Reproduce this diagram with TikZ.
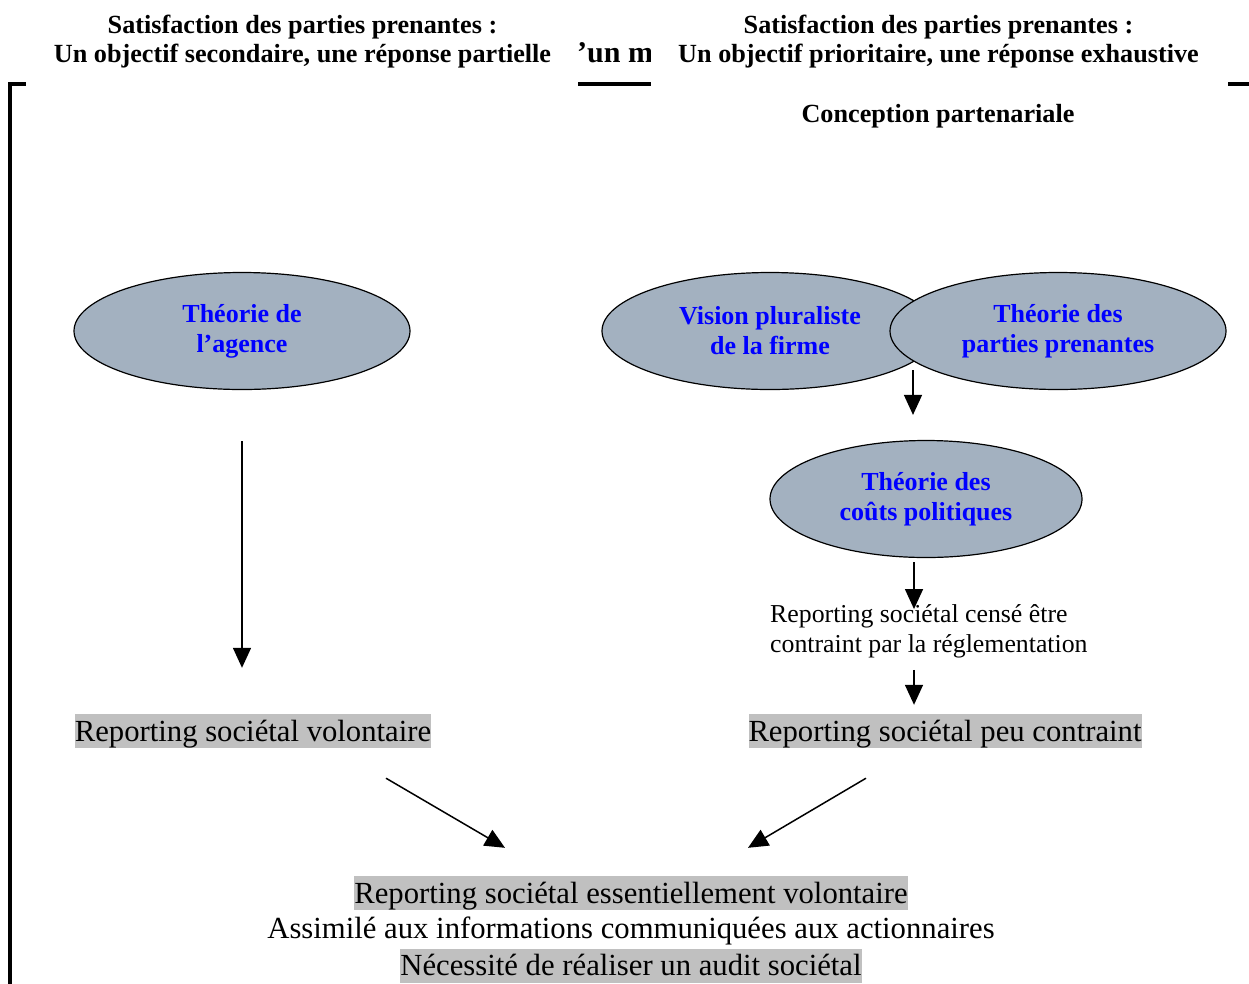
\documentclass[tikz,border=0pt]{standalone}
\usepackage{fontspec}
\setmainfont{Liberation Serif}
\usetikzlibrary{arrows.meta,shapes.geometric}
\definecolor{ellfill}{HTML}{A3B1C0}
\definecolor{hl}{HTML}{C0C0C0}
\definecolor{ttblue}{HTML}{0000FF}
\tikzset{
  theory/.style={ellipse, draw=black, line width=1.2pt, fill=ellfill,
    minimum width=336pt, minimum height=117pt, inner sep=0pt,
    font=\fontsize{26}{30}\selectfont\bfseries, text=ttblue, align=center},
  hlbox/.style={fill=hl, inner xsep=0pt, inner ysep=2.5pt,
    font=\fontsize{30.7}{36}\selectfont, text height=24.5pt, text depth=4.5pt},
  plaintext/.style={font=\fontsize{30.7}{36}\selectfont, inner sep=0pt},
  smalltext/.style={font=\fontsize{25.8}{30}\selectfont, inner sep=0pt, align=left},
  titletext/.style={font=\fontsize{26.2}{29}\selectfont\bfseries, align=center, inner sep=0pt},
  arr/.style={line width=1.5pt, -{Triangle[length=20pt,width=18pt]}},
  frameline/.style={line width=3.5pt}
}
\begin{document}
\begin{tikzpicture}[x=1pt,y=-1pt]
\useasboundingbox (0,0) rectangle (1249,983);
% frame
\coordinate (fTL) at (10,84);
\coordinate (fTR) at (1260,84);
\coordinate (fBL) at (10,995);
\draw[frameline] (fTR) -- (fTL) -- (fBL);
% clipped heading fragment
\node[font=\fontsize{30}{32}\selectfont\bfseries, anchor=base west, inner sep=0pt] (frag) at (577,62) {’un m};
% white masks
\fill[white] (26,0) rectangle (578,92);
\fill[white] (651,0) rectangle (1228,92);
% titles
\node[titletext] (tleft) at (302.5,41.5) {Satisfaction des parties prenantes :\\ Un objectif secondaire, une réponse partielle};
\node[titletext] (tright) at (938.5,41.5) {Satisfaction des parties prenantes :\\ Un objectif prioritaire, une réponse exhaustive};
\node[titletext] (concept) at (938,116) {Conception partenariale};
% ellipses
\node[theory] (agence) at (242,331) {Théorie de\\ l’agence};
\node[theory] (vision) at (770,331) {\vphantom{É}Vision pluraliste\\ de la firme\vphantom{p}};
\node[theory] (parties) at (1058,331) {Théorie des\\ parties prenantes};
\node[theory, minimum width=312pt] (couts) at (926,499) {Théorie des\\ coûts politiques};
% texts
\node[smalltext, anchor=west] (cense) at (770,631) {Reporting sociétal censé être\\ contraint par la réglementation};
\node[hlbox] (volont) at (253,731) {Reporting sociétal volontaire};
\node[hlbox] (peu) at (945,731) {Reporting sociétal peu contraint};
\node[hlbox] (essent) at (631,893) {Reporting sociétal essentiellement volontaire};
\node[plaintext] (assim) at (631,931) {Assimilé aux informations communiquées aux actionnaires};
\node[hlbox] (audit) at (631,965.5) {Nécessité de réaliser un audit sociétal};
% arrows
\coordinate (a1s) at (913,370);
\draw[arr] (a1s) -- ([xshift=-13pt,yshift=25pt]couts.north);
\draw[arr] ([yshift=-51pt]agence.south) -- ([xshift=-11pt,yshift=46pt]volont.north);
\draw[arr] ([xshift=-12pt,yshift=-4pt]couts.south) -- ([xshift=144pt,yshift=-5pt]cense.north west);
\draw[arr] ([xshift=144pt,yshift=-12pt]cense.south west) -- ([xshift=-31pt,yshift=9pt]peu.north);
\draw[arr] ([xshift=133pt,yshift=-30pt]volont.south) -- ([xshift=-126pt,yshift=28pt]essent.north);
\draw[arr] ([xshift=-79pt,yshift=-30pt]peu.south) -- ([xshift=117pt,yshift=28pt]essent.north);
\end{tikzpicture}
\end{document}
